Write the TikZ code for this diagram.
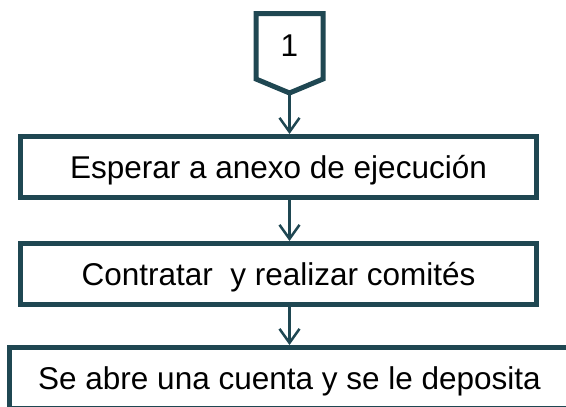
\documentclass[tikz,border=0pt]{standalone}
\usepackage{fontspec}
\setmainfont{Liberation Sans}
\usepackage{tikz}
\usetikzlibrary{positioning,arrows.meta}
\definecolor{flow-teal}{RGB}{31,71,82}

\begin{document}
\begin{tikzpicture}[x=1pt,y=1pt,
    stepbox/.style={draw=flow-teal, line width=5pt, minimum width=516, minimum height=61,
      inner sep=0pt, text height=22.6pt, text depth=0pt, font=\fontsize{31.5}{36}\selectfont},
    flow/.style={draw=flow-teal, line width=2.5pt, -{Straight Barb[length=14pt,width=20pt]}}]
    \useasboundingbox (0,0) rectangle (566,-407);

    % off-page connector
    \coordinate (pl) at (256,-13.5);
    \coordinate (pr) at (323,-13.5);
    \coordinate (tip) at (289.5,-93);
    \draw[flow-teal, line width=5pt] (pl) -- (pr) -- (pr |- 0,-79) -- (tip) -- (pl |- 0,-79) -- cycle;
    \node[inner sep=0pt, text height=22.6pt, text depth=0pt, font=\fontsize{31.5}{36}\selectfont] (one) at (289.5,-45) {1};

    \node[stepbox] (wait) at (278.5,-167) {Esperar a anexo de ejecución};
    \node[stepbox, below=41 of wait] (hire) {Contratar\ \ y realizar comités};
    \node[stepbox, below=38 of hire, xshift=11, minimum width=560] (account) {Se abre una cuenta y se le deposita};

    \draw[flow] (tip) -- (tip |- wait.north);
    \draw[flow] (wait.south -| tip) -- (tip |- hire.north);
    \draw[flow] (hire.south -| tip) -- (tip |- account.north);
\end{tikzpicture}
\end{document}
